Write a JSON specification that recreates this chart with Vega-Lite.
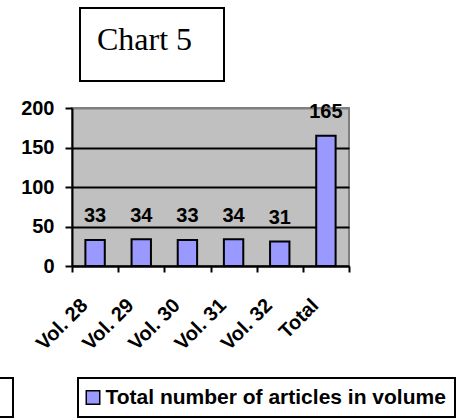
{
  "$schema": "https://vega.github.io/schema/vega-lite/v6.json",
  "width": 277,
  "height": 158,
  "autosize": {"type": "none"},
  "padding": {"left": 72, "top": 108, "right": 127, "bottom": 154},
  "background": "white",
  "data": {
    "values": [
      {"volume": "Vol. 28", "articles": 33},
      {"volume": "Vol. 29", "articles": 34},
      {"volume": "Vol. 30", "articles": 33},
      {"volume": "Vol. 31", "articles": 34},
      {"volume": "Vol. 32", "articles": 31},
      {"volume": "Total", "articles": 165}
    ]
  },
  "encoding": {
    "x": {
      "field": "volume",
      "type": "nominal",
      "sort": null,
      "scale": {"paddingInner": 0, "paddingOuter": 0},
      "axis": {
        "title": null,
        "grid": false,
        "tickBand": "extent",
        "labelAngle": -45,
        "labelAlign": "right",
        "labelBaseline": "middle",
        "labelOffset": -11,
        "labelPadding": 30,
        "tickSize": 6,
        "tickWidth": 2,
        "tickColor": "black",
        "domainColor": "black",
        "domainWidth": 2,
        "labelFont": "Liberation Sans",
        "labelFontWeight": "bold",
        "labelFontSize": 20,
        "labelColor": "black"
      }
    },
    "y": {
      "field": "articles",
      "type": "quantitative",
      "scale": {"domain": [0, 200], "nice": false},
      "axis": {
        "title": null,
        "values": [0, 50, 100, 150, 200],
        "grid": true,
        "gridColor": {"condition": {"test": "datum.value === 200", "value": "#808080"}, "value": "black"},
        "gridWidth": 2,
        "domainColor": "black",
        "domainWidth": 2,
        "tickColor": "black",
        "tickWidth": 2,
        "tickSize": 7,
        "labelFont": "Liberation Sans",
        "labelFontWeight": "bold",
        "labelFontSize": 20,
        "labelColor": "black",
        "labelPadding": 11
      }
    }
  },
  "layer": [
    {
      "mark": {"type": "bar", "width": {"band": 0.42}, "stroke": "black", "strokeWidth": 2},
      "encoding": {
        "color": {
          "datum": "Total number of articles in volume",
          "scale": {"range": ["#9999FF"]},
          "legend": {
            "orient": "none",
            "legendX": 6,
            "legendY": 270,
            "title": null,
            "strokeColor": "black",
            "fillColor": "white",
            "padding": 9,
            "labelFont": "Liberation Sans",
            "labelFontWeight": "bold",
            "labelFontSize": 21,
            "labelColor": "black",
            "labelLimit": 0,
            "labelOffset": 2,
            "symbolOffset": -4.5,
            "symbolType": "square",
            "symbolSize": 182,
            "symbolFillColor": "#9999FF",
            "symbolStrokeColor": "black",
            "symbolStrokeWidth": 1.5
          }
        }
      }
    },
    {
      "mark": {"type": "text", "dy": -17.5, "baseline": "alphabetic", "font": "Liberation Sans", "fontWeight": "bold", "fontSize": 20, "color": "black"},
      "encoding": {"text": {"field": "articles", "type": "quantitative"}}
    },
    {
      "mark": {"type": "point", "opacity": 0},
      "encoding": {
        "shape": {
          "datum": "\u00a0",
          "legend": {
            "orient": "none",
            "legendX": 8,
            "legendY": -100,
            "title": "Chart 5",
            "titleFont": "Liberation Serif",
            "titleFontWeight": "normal",
            "titleFontSize": 32,
            "titleColor": "black",
            "titleAnchor": "start",
            "titleLimit": 0,
            "titlePadding": 0,
            "strokeColor": "black",
            "fillColor": "white",
            "padding": 17,
            "labelFont": "Liberation Sans",
            "labelFontSize": 7,
            "labelColor": "white",
            "labelLimit": 0,
            "labelOffset": 103,
            "symbolSize": 0,
            "symbolOpacity": 0
          }
        }
      }
    },
    {
      "mark": {"type": "point", "opacity": 0},
      "encoding": {
        "shape": {
          "datum": "\u00a0\u00a0",
          "legend": {
            "orient": "none",
            "legendX": -161,
            "legendY": 270,
            "title": null,
            "strokeColor": "black",
            "fillColor": "white",
            "padding": 9,
            "labelFont": "Liberation Sans",
            "labelFontWeight": "bold",
            "labelFontSize": 21,
            "labelColor": "white",
            "labelLimit": 0,
            "labelOffset": 63,
            "symbolSize": 0,
            "symbolOpacity": 0
          }
        }
      }
    }
  ],
  "resolve": {"scale": {"shape": "independent"}, "legend": {"shape": "independent"}},
  "config": {
    "view": {"fill": "#C0C0C0", "stroke": "#808080", "strokeWidth": 2},
    "legend": {"strokeWidth": 2}
  }
}
